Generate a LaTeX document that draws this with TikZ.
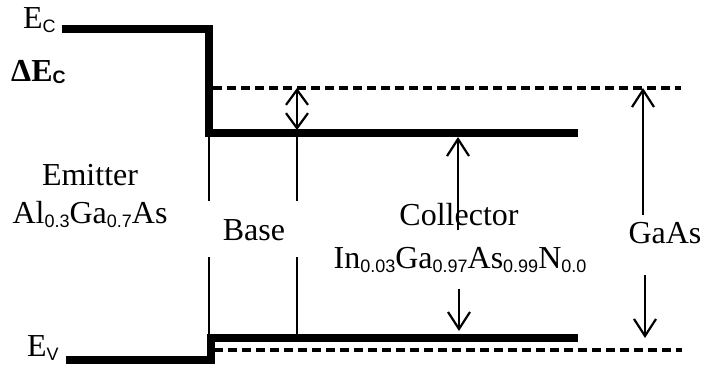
\documentclass[tikz,border=0pt]{standalone}
\usepackage{fontspec}
\setmainfont{Liberation Serif}
\setsansfont{Liberation Sans}
\usetikzlibrary{arrows.meta}
\newcommand\lowsub[1]{\raisebox{-4pt}{\sffamily\fontsize{18}{18}\selectfont #1}}
\newcommand\lowsubb[1]{\raisebox{-2pt}{\sffamily\bfseries\fontsize{18}{18}\selectfont #1}}
\begin{document}
\begin{tikzpicture}[x=1pt,y=-1pt,
 band/.style={line width=7.5pt, line join=miter},
 refline/.style={line width=3.2pt, dash pattern=on 9pt off 5pt},
 guide/.style={line width=2.2pt},
 dim/.style={line width=2.2pt, -{Straight Barb[length=17pt,width=22pt]}},
 dimboth/.style={line width=2.2pt, {Straight Barb[length=15pt,width=22pt]}-{Straight Barb[length=15pt,width=22pt]}},
 lbl/.style={font=\fontsize{32}{34}\selectfont, inner sep=0pt, anchor=base},
]
\useasboundingbox (0,0) rectangle (706,368);
% band edges
\coordinate (ec0) at (62,29);
\coordinate (ec1) at (209,29);
\coordinate (ec2) at (209,133);
\coordinate (ec3) at (578,133);
\coordinate (ev0) at (66,360);
\coordinate (ev1) at (211,360);
\coordinate (ev2) at (211,338);
\coordinate (ev3) at (578,338);
\draw[band] (ec0) -- (ec1) -- (ec2) -- (ec3);
\draw[band] (ev0) -- (ev1) -- (ev2) -- (ev3);
% GaAs reference levels
\coordinate (gc0) at (213,88);
\coordinate (gc1) at (681,88);
\coordinate (gv0) at (214,350);
\coordinate (gv1) at (682,350);
\draw[refline] (gc0) -- (gc1);
\draw[refline] (gv0) -- (gv1);
% base boundaries
\coordinate (bl0) at (209,136);
\coordinate (bl1) at (209,201);
\coordinate (bl2) at (209,257);
\coordinate (bl3) at (209,336);
\draw[guide] (bl0) -- (bl1);
\draw[guide] (bl2) -- (bl3);
\coordinate (br0) at (297,88);
\coordinate (br1) at (297,130);
\coordinate (br2) at (297,201);
\coordinate (br3) at (297,257);
\coordinate (br4) at (297,336);
\draw[dimboth] (br0) -- (br1);
\draw[guide] (br1) -- (br2);
\draw[guide] (br3) -- (br4);
% collector arrows
\coordinate (c0) at (458,230);
\coordinate (c1) at (458,137);
\coordinate (c2) at (459,289);
\coordinate (c3) at (459,331);
\draw[dim] (c0) -- (c1);
\draw[dim] (c2) -- (c3);
% GaAs arrows
\coordinate (g0) at (643,215);
\coordinate (g1) at (643,88);
\coordinate (g2) at (645,275);
\coordinate (g3) at (645,338);
\draw[dim] (g0) -- (g1);
\draw[dim] (g2) -- (g3);
% labels
\node[lbl, anchor=base west] (lec) at (23,28) {E\lowsub{C}};
\node[lbl, anchor=base west, font=\fontsize{32}{34}\selectfont\bfseries] (ldec) at (11,81) {ΔE\lowsubb{C}};
\node[lbl, anchor=base west] (lev) at (27,356) {E\lowsub{V}};
\node[lbl] (lem) at (90,185) {Emitter};
\node[lbl] (lemc) at (90,223) {Al\lowsub{0.3}Ga\lowsub{0.7}As};
\node[lbl] (lba) at (254,240) {Base};
\node[lbl] (lco) at (459,225) {Collector};
\node[lbl] (lcoc) at (460,268) {In\lowsub{0.03}Ga\lowsub{0.97}As\lowsub{0.99}N\lowsub{0.0}};
\node[lbl] (lga) at (665,243) {GaAs};
\end{tikzpicture}
\end{document}
